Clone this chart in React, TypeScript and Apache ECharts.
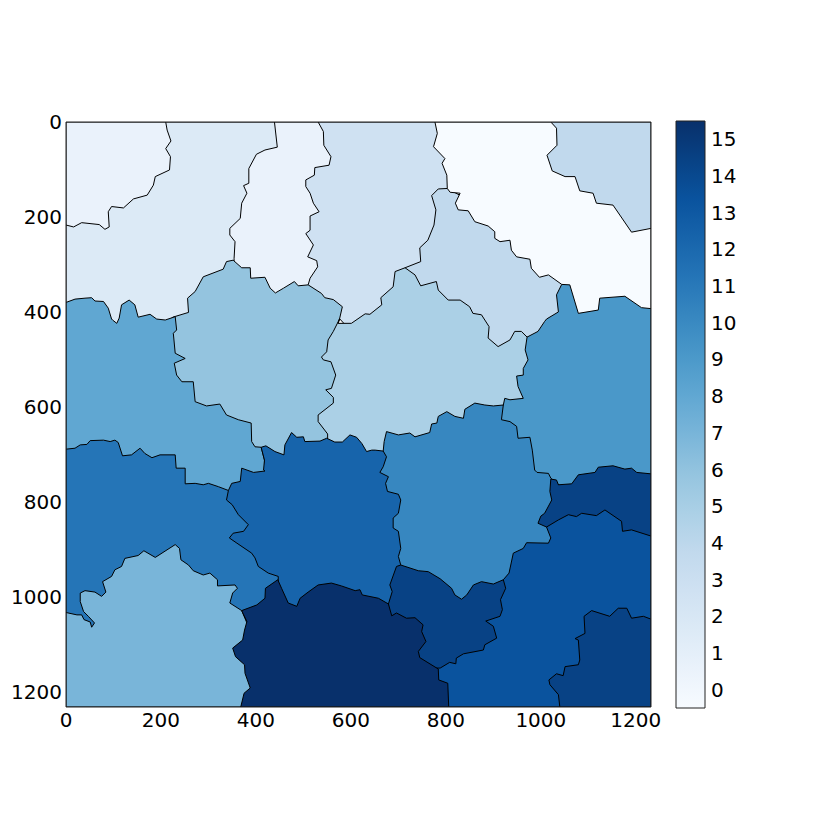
import React, { useEffect, useRef } from "react";
import * as echarts from "echarts";

type P = number[];
const blues = ["#f7fbff","#eaf2fb","#dceaf6","#cfe1f2","#c1d9ed","#abd0e6","#94c4df","#79b5d9","#60a7d2","#4a98c9","#3787c0","#2575b7","#1764ab","#0a539e","#084285","#08306b"];
const axisTicks = [0,200,400,600,800,1000,1200];
const barTicks = [0,1,2,3,4,5,6,7,8,9,10,11,12,13,14,15];
const EXTENT = 1232;

const band2: P[] = [[0,0],[500,0],[500,450],[0,450]];
const topLeft1: P[] = [[0,0],[210,0],[213,17],[221,40],[210,56],[220,73],[218,101],[188,115],[184,133],[171,154],[142,162],[121,181],[96,178],[89,189],[91,221],[82,226],[70,216],[33,212],[16,221],[0,217]];
const narrow1: P[] = [[439,0],[445,53],[419,59],[401,68],[385,98],[385,129],[374,134],[381,150],[370,171],[367,203],[345,224],[345,238],[356,252],[354,287],[354,400],[560,400],[560,0]];
const col3: P[] = [[531,0],[542,20],[543,49],[558,73],[554,91],[524,96],[523,112],[505,122],[505,136],[514,150],[521,171],[533,189],[514,198],[514,228],[505,235],[521,259],[509,284],[528,292],[530,305],[514,329],[510,343],[600,440],[800,440],[820,0]];
const center4: P[] = [[803,140],[784,141],[770,155],[779,185],[775,217],[762,249],[745,265],[747,294],[714,307],[720,480],[1060,500],[1100,300]];
const light6: P[] = [[225,411],[258,401],[256,371],[272,357],[289,326],[331,310],[338,294],[352,291],[370,307],[388,307],[389,329],[419,327],[430,350],[441,360],[458,350],[481,336],[489,345],[510,343],[538,361],[545,370],[563,374],[582,389],[576,415],[573,424],[620,430],[620,720],[190,720],[190,440]];
const mid5: P[] = [[576,415],[573,424],[601,424],[630,404],[640,405],[665,385],[663,370],[689,347],[693,315],[714,307],[735,322],[747,345],[780,336],[784,354],[805,375],[830,375],[850,389],[857,403],[875,406],[891,431],[889,455],[910,473],[935,459],[945,441],[959,441],[971,453],[1000,460],[1000,680],[551,720],[551,670],[551,657],[531,631],[531,617],[563,592],[563,580],[547,564],[559,561],[568,533],[558,505],[542,501],[538,495],[549,484],[552,459],[563,441]];
const left8: P[] = [[0,380],[19,373],[40,371],[54,370],[61,377],[79,378],[89,392],[96,415],[98,417],[107,424],[112,413],[117,385],[133,375],[145,385],[152,411],[177,405],[191,415],[209,417],[230,410],[233,438],[226,445],[230,487],[251,498],[228,508],[233,533],[244,547],[268,547],[272,589],[296,598],[324,594],[338,617],[363,627],[390,634],[391,673],[398,684],[411,685],[418,712],[420,790],[0,790]];
const right9: P[] = [[1044,342],[1033,364],[1037,400],[1012,415],[1008,420],[994,441],[971,453],[967,480],[973,501],[963,519],[963,533],[949,535],[952,557],[963,582],[935,585],[924,582],[921,596],[905,610],[905,650],[1000,780],[1090,785],[1232,785],[1232,300],[1100,300]];
const topRight4: P[] = [[1000,0],[1232,0],[1232,240],[1000,240]];
const white0: P[] = [[777,0],[782,24],[774,52],[798,77],[792,87],[802,112],[803,140],[809,148],[830,150],[820,171],[826,185],[847,187],[861,210],[889,219],[903,231],[903,245],[914,252],[935,249],[938,270],[949,284],[977,289],[980,308],[997,327],[1016,322],[1044,342],[1061,343],[1079,403],[1121,396],[1124,371],[1177,367],[1212,391],[1232,393],[1232,224],[1191,232],[1152,175],[1117,171],[1110,150],[1082,145],[1072,115],[1051,115],[1024,103],[1013,70],[1034,49],[1033,13],[1021,0]];
const lower11: P[] = [[0,689],[19,687],[30,680],[44,679],[51,671],[79,670],[93,673],[103,670],[110,675],[119,703],[138,701],[156,687],[166,698],[181,707],[198,701],[230,701],[232,729],[251,729],[251,762],[272,761],[289,764],[300,761],[321,768],[342,776],[500,800],[500,1075],[0,1075]];
const mid12: P[] = [[342,776],[349,761],[367,757],[370,729],[395,738],[419,735],[416,733],[418,712],[411,685],[421,682],[440,694],[459,701],[461,680],[475,654],[486,664],[500,663],[503,673],[535,672],[549,666],[566,674],[582,674],[598,659],[612,664],[623,677],[633,694],[644,691],[651,691],[668,693],[720,700],[720,1000],[660,1040],[447,1040],[447,957],[426,950],[405,936],[398,918],[391,908],[360,887],[344,876],[352,866],[374,862],[384,848],[363,827],[350,806],[338,796]];
const midRight10: P[] = [[668,693],[670,673],[675,652],[700,659],[724,655],[735,663],[766,654],[770,636],[781,634],[784,620],[802,610],[819,620],[837,624],[840,605],[861,592],[882,596],[900,598],[921,596],[917,627],[935,631],[949,641],[952,666],[977,664],[982,691],[987,733],[992,738],[1016,740],[1021,750],[1080,800],[1080,1000],[880,1100],[700,1000],[705,933],[700,915],[705,898],[700,862],[689,855],[689,834],[700,824],[705,796],[700,784],[677,778],[673,761],[679,747],[661,738],[668,726],[675,705]];
const upperDark14: P[] = [[1021,752],[1033,754],[1037,764],[1065,762],[1079,743],[1114,738],[1121,727],[1152,724],[1177,731],[1191,729],[1202,738],[1232,741],[1232,900],[1060,900],[1012,853],[994,845],[1000,830],[1008,824],[1023,796],[1019,778]];
const big13: P[] = [[1232,872],[1191,859],[1172,862],[1170,841],[1135,817],[1117,829],[1086,824],[1075,831],[1058,827],[1037,838],[1012,853],[1021,876],[1016,887],[970,886],[963,898],[942,908],[933,950],[921,964],[900,1000],[780,1100],[780,1232],[1232,1232]];
const small14: P[] = [[705,933],[742,945],[763,947],[788,962],[812,982],[819,996],[833,1005],[844,996],[858,975],[875,968],[900,973],[921,964],[926,982],[915,1006],[919,1027],[914,1041],[884,1051],[900,1062],[907,1087],[882,1101],[879,1112],[837,1120],[822,1129],[821,1141],[808,1138],[788,1150],[680,1150],[679,1015],[687,989],[682,975],[696,936]];
const bottomLeft7: P[] = [[0,1033],[23,1038],[33,1038],[38,1048],[51,1053],[54,1064],[60,1055],[47,1041],[37,1031],[30,1010],[30,992],[40,987],[61,990],[75,999],[84,990],[77,968],[96,957],[103,943],[117,936],[124,919],[152,913],[164,903],[188,917],[230,890],[239,898],[242,922],[258,933],[268,945],[289,954],[303,950],[319,964],[319,977],[356,975],[361,982],[351,992],[345,1013],[370,1029],[400,1100],[400,1232],[0,1232]];
const bottom15: P[] = [[368,1232],[375,1203],[388,1192],[377,1161],[376,1143],[357,1126],[351,1108],[372,1091],[376,1070],[381,1052],[370,1029],[402,1017],[419,1003],[420,982],[446,964],[454,982],[468,1013],[486,1020],[493,1003],[510,990],[531,975],[559,971],[580,977],[609,987],[619,985],[624,996],[658,1003],[679,1015],[686,1040],[696,1034],[717,1045],[735,1044],[752,1059],[749,1073],[758,1094],[742,1115],[745,1128],[784,1152],[785,1175],[804,1182],[806,1232]];
const cornerDark14: P[] = [[1040,1232],[1037,1206],[1019,1185],[1017,1175],[1033,1162],[1047,1166],[1051,1147],[1079,1143],[1082,1133],[1079,1091],[1072,1088],[1093,1077],[1091,1041],[1107,1029],[1145,1041],[1163,1024],[1181,1024],[1191,1045],[1216,1041],[1232,1047],[1232,1232]];

const regionValues = [2,1,1,3,4,6,5,8,9,4,0,11,12,10,14,13,14,7,15,14];
const regionShapes = [band2,topLeft1,narrow1,col3,center4,light6,mid5,left8,right9,topRight4,white0,lower11,mid12,midRight10,upperDark14,big13,small14,bottomLeft7,bottom15,cornerDark14];

const font = "'DejaVu Sans', sans-serif";
const labelStyle = { color: "#000", fontFamily: font, fontSize: 20, formatter: (v: number) => String(v) };

export default function App() {
  const ref = useRef<HTMLDivElement>(null);
  useEffect(() => {
    const chart = echarts.init(ref.current!, undefined, { renderer: "svg" });
    chart.setOption({
      animation: false,
      backgroundColor: "#fff",
      grid: [
        { left: 66, top: 122, width: 585, height: 585 },
        { left: 676, top: 121, width: 29, height: 587 },
      ],
      xAxis: [
        { type: "value", gridIndex: 0, min: 0, max: EXTENT, position: "bottom", splitLine: { show: false }, axisLine: { show: false }, axisTick: { show: false },
          axisLabel: { ...labelStyle, margin: 3, customValues: axisTicks } },
        { type: "value", gridIndex: 1, min: 0, max: 1, show: false },
      ],
      yAxis: [
        { type: "value", gridIndex: 0, min: 0, max: EXTENT, inverse: true, splitLine: { show: false }, axisLine: { show: false }, axisTick: { show: false },
          axisLabel: { ...labelStyle, margin: 4, customValues: axisTicks } },
        { type: "value", gridIndex: 1, min: -0.5, max: 15.5, position: "right", splitLine: { show: false }, axisLine: { show: false }, axisTick: { show: false },
          axisLabel: { ...labelStyle, margin: 6, customValues: barTicks } },
      ],
      series: [
        {
          type: "custom", xAxisIndex: 0, yAxisIndex: 0, clip: true, silent: true,
          data: regionShapes.map((_, i) => [0, 0, regionValues[i]]),
          encode: { x: 0, y: 1 },
          renderItem: (params: any, api: any) => ({
            type: "polygon",
            shape: { points: regionShapes[params.dataIndex].map((p) => api.coord(p)) },
            style: { fill: blues[regionValues[params.dataIndex]], stroke: "#000", lineWidth: 1, lineJoin: "round" },
          }),
        },
        {
          type: "custom", xAxisIndex: 0, yAxisIndex: 0, clip: false, silent: true, z: 10,
          data: [[0, 0]], encode: { x: 0, y: 1 },
          renderItem: (_: any, api: any) => {
            const a = api.coord([0, 0]); const b = api.coord([EXTENT, EXTENT]);
            return { type: "rect", shape: { x: a[0], y: a[1], width: b[0] - a[0], height: b[1] - a[1] }, style: { fill: "none", stroke: "#222", lineWidth: 1 } };
          },
        },
        {
          type: "custom", xAxisIndex: 1, yAxisIndex: 1, clip: false, silent: true,
          data: [[0, -0.5]], encode: { x: 0, y: 1 },
          renderItem: (_: any, api: any) => {
            const a = api.coord([0, 15.5]); const b = api.coord([1, -0.5]);
            return {
              type: "rect",
              shape: { x: a[0], y: a[1], width: b[0] - a[0], height: b[1] - a[1] },
              style: {
                fill: new echarts.graphic.LinearGradient(0, 1, 0, 0, blues.map((color, i) => ({ offset: i / 15, color }))),
                stroke: "#222", lineWidth: 1,
              },
            };
          },
        },
      ],
    });
    return () => chart.dispose();
  }, []);
  return <div ref={ref} style={{ position: "absolute", left: 0, top: 0, width: 830, height: 830 }} />;
}
